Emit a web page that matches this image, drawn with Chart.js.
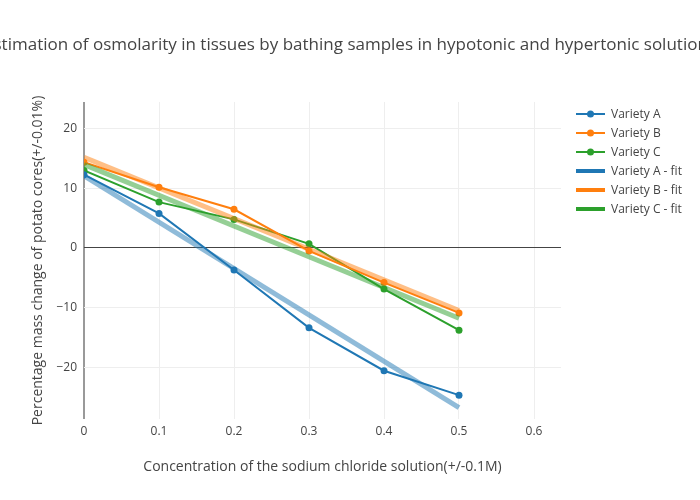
<!DOCTYPE html>
<html>
<head>
<meta charset="utf-8">
<script src="https://cdn.jsdelivr.net/npm/chart.js@4/dist/chart.umd.min.js"></script>
<style>
  html, body { margin: 0; padding: 0; background: #fff; }
  #wrap { width: 700px; height: 500px; position: relative; }
</style>
</head>
<body>
<div id="wrap"><canvas id="chart"></canvas></div>
<script>
var concentrations = [0, 0.1, 0.2, 0.3, 0.4, 0.5];
var varietyA = [12.3, 5.8, -3.7, -13.4, -20.6, -24.7];
var varietyB = [14.4, 10.2, 6.5, -0.5, -5.8, -10.9];
var varietyC = [13.0, 7.7, 4.8, 0.7, -6.9, -13.8];

var fitX = [0, 0.5];
var fitA = [12.1, -26.8];
var fitB = [15.2, -10.5];
var fitC = [14.0, -11.8];

var xTicks = [0, 0.1, 0.2, 0.3, 0.4, 0.5, 0.6];
var yTicks = [-20, -10, 0, 10, 20];

var COLORS = { a: "#1f77b4", b: "#ff7f0e", c: "#2ca02c" };
var FONT = "'Open Sans', 'Noto Sans', sans-serif";
var TEXT = "#444";

function pairs(xs, ys) {
    return xs.map(function (x, i) { return { x: x, y: ys[i] }; });
}

function fade(hex, a) {
    var n = parseInt(hex.slice(1), 16);
    return "rgba(" + (n >> 16) + "," + ((n >> 8) & 255) + "," + (n & 255) + "," + a + ")";
}

function lineSet(label, ys, color) {
    return {
        label: label, data: pairs(concentrations, ys),
        borderColor: color, backgroundColor: color,
        borderWidth: 2, pointRadius: 3.5, pointHoverRadius: 3.5,
        pointBorderWidth: 0, tension: 0, order: 2, kind: "line"
    };
}

function fitSet(label, ys, color) {
    return {
        label: label, data: pairs(fitX, ys),
        borderColor: fade(color, 0.5), backgroundColor: color,
        borderWidth: 5, pointRadius: 0, tension: 0, order: 1, kind: "fit", solid: color
    };
}

// title + legend drawn by hand so they sit where the reference has them
var decorations = {
    id: "decorations",
    afterDraw: function (chart) {
        var ctx = chart.ctx;
        ctx.save();
        ctx.fillStyle = TEXT;
        ctx.font = "17px " + FONT;
        ctx.textAlign = "center";
        ctx.textBaseline = "middle";
        ctx.fillText("Estimation of osmolarity in tissues by bathing samples in hypotonic and hypertonic solutions", 350, 45);

        ctx.font = "12px " + FONT;
        ctx.textAlign = "left";
        chart.data.datasets.forEach(function (ds, i) {
            var y = 114 + i * 19;
            var color = ds.kind === "fit" ? ds.solid : ds.borderColor;
            ctx.strokeStyle = color;
            ctx.lineWidth = ds.kind === "fit" ? 4 : 2;
            ctx.beginPath();
            ctx.moveTo(576, y);
            ctx.lineTo(605, y);
            ctx.stroke();
            if (ds.kind === "line") {
                ctx.fillStyle = color;
                ctx.beginPath();
                ctx.arc(590.5, y, 3.5, 0, Math.PI * 2);
                ctx.fill();
            }
            ctx.fillStyle = TEXT;
            ctx.fillText(ds.label, 611, y + 0.5);
        });
        ctx.restore();
    }
};

new Chart(document.getElementById("chart"), {
    type: "line",
    data: {
        datasets: [
            lineSet("Variety A", varietyA, COLORS.a),
            lineSet("Variety B", varietyB, COLORS.b),
            lineSet("Variety C", varietyC, COLORS.c),
            fitSet("Variety A - fit", fitA, COLORS.a),
            fitSet("Variety B - fit", fitB, COLORS.b),
            fitSet("Variety C - fit", fitC, COLORS.c)
        ]
    },
    options: {
        responsive: true,
        maintainAspectRatio: false,
        animation: false,
        layout: { padding: { top: 102, right: 139, bottom: 0, left: 0 } },
        plugins: { legend: { display: false }, tooltip: { enabled: false } },
        scales: {
            x: {
                type: "linear", min: 0, max: 0.636,
                afterFit: function (s) { s.height = 81; },
                afterBuildTicks: function (s) { s.ticks = xTicks.map(function (v) { return { value: v }; }); },
                ticks: { color: TEXT, font: { family: FONT, size: 12 }, padding: 5, maxRotation: 0 },
                grid: {
                    drawTicks: false,
                    color: function (c) { return c.tick && c.tick.value === 0 ? "#999" : "#eee"; },
                    lineWidth: function (c) { return c.tick && c.tick.value === 0 ? 2 : 1; }
                },
                border: { display: false },
                title: {
                    display: true, text: "Concentration of the sodium chloride solution(+/-0.1M)",
                    color: TEXT, font: { family: FONT, size: 14 }, padding: { top: 25, bottom: 25 }
                }
            },
            y: {
                type: "linear", min: -28.7, max: 24.5,
                afterFit: function (s) { s.width = 84; },
                afterBuildTicks: function (s) { s.ticks = yTicks.map(function (v) { return { value: v }; }); },
                ticks: {
                    color: TEXT, font: { family: FONT, size: 12 }, padding: 7,
                    callback: function (v) { return v < 0 ? "\u2212" + Math.abs(v) : v; }
                },
                grid: {
                    drawTicks: false,
                    color: function (c) { return c.tick && c.tick.value === 0 ? "#444" : "#eee"; }
                },
                border: { display: false },
                title: {
                    display: true, text: "Percentage mass change of potato cores(+/-0.01%)",
                    color: TEXT, font: { family: FONT, size: 14 }, padding: { top: 30, bottom: 30 }
                }
            }
        }
    },
    plugins: [decorations]
});
</script>
</body>
</html>
